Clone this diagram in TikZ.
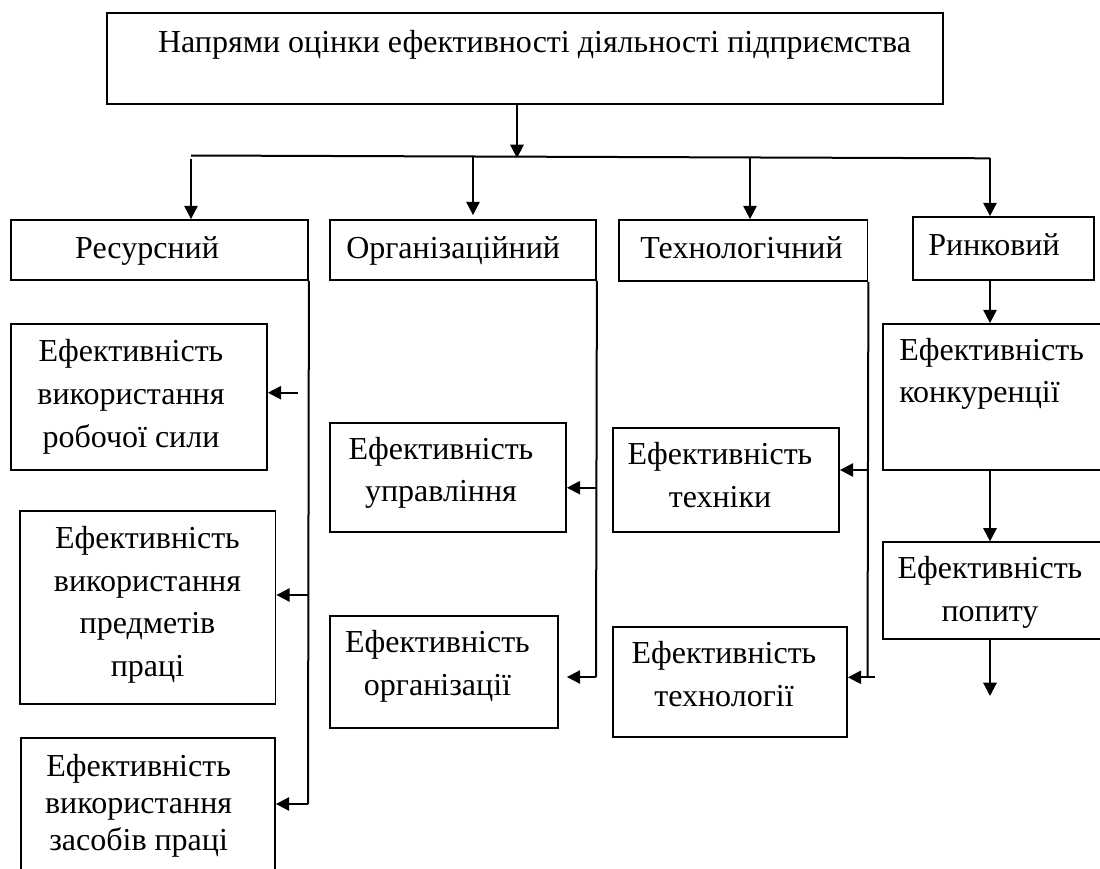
\documentclass[tikz,border=0pt]{standalone}
\usepackage{fontspec}
\setmainfont{Liberation Serif}
\usetikzlibrary{arrows.meta,fit}
\begin{document}
\begin{tikzpicture}[x=0.75pt,y=-0.75pt,
  box/.style={draw, line width=1.35pt, inner sep=0pt},
  lbl/.style={font=\fontsize{24}{32}\selectfont, inner sep=0pt, align=center},
  lbltight/.style={font=\fontsize{24}{27.5}\selectfont, inner sep=0pt, align=center},
  conn/.style={line width=1.5pt},
  arr/.style={conn, -{Triangle[length=10pt,width=10pt]}}]
\useasboundingbox (0,0) rectangle (1100,868);
\clip (0,0) rectangle (1100,868);

% boxes
\node[box, fit={(107,13.3)(943,104)}] (top) {};
\node[box, fit={(11,220)(308,280)}] (res) {};
\node[box, fit={(330,220)(596,280)}] (org) {};
\node[box, fit={(619,220)(867.5,281)}] (tech) {};
\node[box, fit={(913,217)(1094,280)}] (rynk) {};
\node[box, fit={(11,324)(267,470)}] (b1) {};
\node[box, fit={(20,510.7)(275.5,704)}] (b2) {};
\node[box, fit={(20.7,737.7)(275,890)}] (b3) {};
\node[box, fit={(330,422.7)(566,531.7)}] (upr) {};
\node[box, fit={(330,616)(558,728)}] (orgz) {};
\node[box, fit={(613,427.7)(839,531.7)}] (tekh) {};
\node[box, fit={(613,626.7)(847,737.3)}] (tekhn) {};
\node[box, fit={(882.6,324)(1115,470)}] (konk) {};
\node[box, fit={(882.6,542.3)(1115,639.3)}] (pop) {};

% texts (anchor base = baseline of the last line)
\node[lbl, anchor=base] (toptxt) at (534.5,52) {Напрями оцінки ефективності діяльності підприємства};
\node[lbl, anchor=base] (restxt) at (147,258) {Ресурсний};
\node[lbl, anchor=base west] (orgtxt) at (346,258) {Організаційний};
\node[lbl, anchor=base] (techtxt) at (741.5,258) {Технологічний};
\node[lbl, anchor=base] (rynktxt) at (994,255) {Ринковий};
\node[lbl, anchor=base] (b1txt) at (131,447) {Ефективність\\використання\\робочої сили};
\node[lbl, anchor=base] (b2txt) at (147.5,676.5) {Ефективність\\використання\\предметів\\праці};
\node[lbltight, anchor=base] (b3txt) at (138.6,850) {Ефективність\\використання\\засобів праці};
\node[lbl, anchor=base] (uprtxt) at (441,501.7) {Ефективність\\управління};
\node[lbl, anchor=base] (orgztxt) at (437.5,695.5) {Ефективність\\організації};
\node[lbl, anchor=base] (tekhtxt) at (720,507.2) {Ефективність\\техніки};
\node[lbl, anchor=base] (tekhntxt) at (724,706.3) {Ефективність\\технології};
\node[lbl, anchor=base west, align=left] (konktxt) at (899,402.7) {Ефективність\\конкуренції};
\node[lbl, anchor=base] (poptxt) at (990,621.3) {Ефективність\\попиту};

% junction coordinates
\coordinate (jt) at (517,158);
\coordinate (bL) at (191,155.5);
\coordinate (bR) at (990,158.3);
\coordinate (j1) at (191,159);
\coordinate (j2) at (473,155.5);
\coordinate (j3) at (750,157);
\coordinate (j4) at (990,158.3);
\coordinate (rv) at (308,804);
\coordinate (r1) at (298,392.7);
\coordinate (r2) at (308,595);
\coordinate (ov) at (596,677);
\coordinate (o1) at (596,487.7);
\coordinate (tv) at (867.5,677.3);
\coordinate (t1) at (867.5,470);
\coordinate (t2) at (874.5,677.3);
\coordinate (rx) at (990,300);
\coordinate (pend) at (990,696);

% connectors
\draw[arr] (top.south -| jt) -- (jt);
\draw[conn] (bL) -- (bR);
\draw[arr] (j1) -- (res.north -| j1);
\draw[arr, shorten >=3pt] (j2) -- (org.north -| j2);
\draw[arr] (j3) -- (tech.north -| j3);
\draw[arr] (j4) -- (rynk.north -| j4);

\draw[conn] (res.south east) -- (rv);
\draw[arr] (r1) -- (r1 -| b1.east);
\draw[arr] (r2) -- (r2 -| b2.east);
\draw[arr] (rv) -- (rv -| b3.east);

\draw[conn] (org.south east) -- (ov);
\draw[arr] (o1) -- (o1 -| upr.east);
\draw[arr, shorten >=6pt] (ov) -- (ov -| orgz.east);

\draw[conn] (tech.south east) -- (tv);
\draw[arr] (t1) -- (t1 -| tekh.east);
\draw[arr] (t2) -- (t2 -| tekhn.east);

\draw[arr] (rx |- rynk.south) -- (rx |- konk.north);
\draw[arr] (rx |- konk.south) -- (rx |- pop.north);
\draw[arr] (rx |- pop.south) -- (pend);
\end{tikzpicture}
\end{document}
